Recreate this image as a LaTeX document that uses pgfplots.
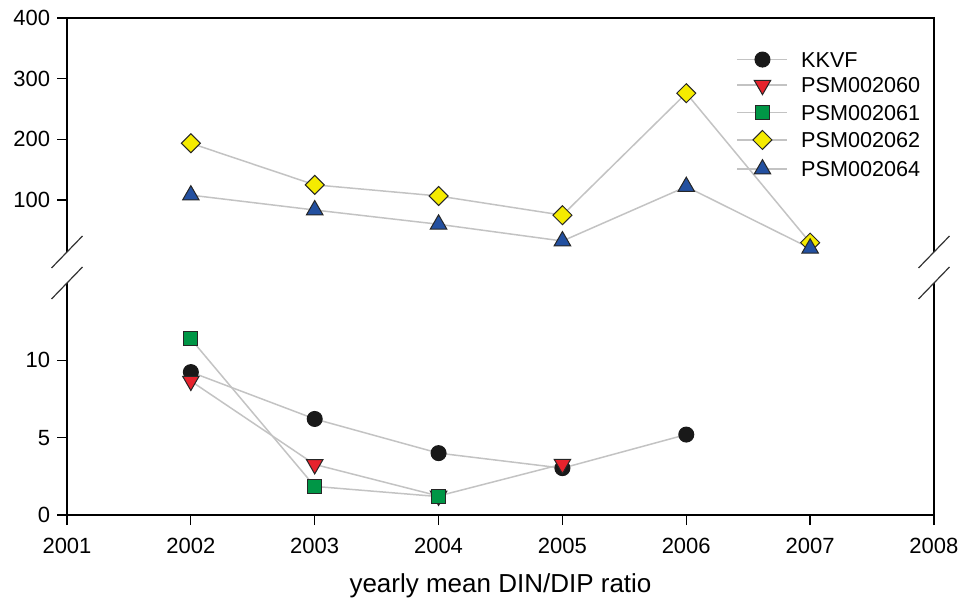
\documentclass[border=0pt]{standalone}
\usepackage{fontspec}
\setmainfont{Liberation Sans}
\usepackage{pgfplots}
\pgfplotsset{compat=1.18}
\definecolor{cred}{RGB}{230,35,45}
\definecolor{cgreen}{RGB}{0,150,70}
\definecolor{cyellow}{RGB}{245,235,0}
\definecolor{cblue}{RGB}{35,80,160}
\definecolor{cblack}{RGB}{25,25,25}
\definecolor{cgray}{RGB}{195,195,195}
\begin{document}
\begin{tikzpicture}[x=1bp,y=1bp]
\useasboundingbox (-33.5bp,-42bp) rectangle (446.5bp,257.5bp);
\pgfplotsset{
  common/.style={
    scale only axis, width=433.5bp,
    xmin=2001, xmax=2008,
    axis line style={draw=none},
    tick align=outside, major tick length=5bp,
    every tick/.style={black, line width=0.6bp},
    ytick pos=left, xtick pos=bottom,
    tick label style={font=\fontsize{11bp}{13bp}\selectfont},
    /pgf/number format/assume math mode=true,
    /pgf/number format/1000 sep={},
    clip=false,
    legend image code/.code={\draw[mark repeat=2,mark phase=2] plot coordinates {(0bp,0bp) (12.5bp,0bp) (25bp,0bp)};},
  },
  ln/.style={draw=cgray, line width=0.75bp},
  kkvf/.style={ln, mark=*, mark size=3.75bp, mark options={draw=cblack, fill=cblack, line width=0.5bp}},
  p60/.style={ln, mark=triangle*, mark size=4.75bp, mark options={draw=black!85, fill=cred, line width=0.5bp, rotate=180}},
  p61/.style={ln, mark=square*, mark size=3.5bp, mark options={draw=black!85, fill=cgreen, line width=0.5bp}},
  p62/.style={ln, mark=square*, mark size=3.36bp, mark options={draw=black!85, fill=cyellow, line width=0.5bp, rotate=45}},
  p64/.style={ln, mark=triangle*, mark size=4.75bp, mark options={draw=black!85, fill=cblue, line width=0.5bp}},
}
% bottom panel
\begin{axis}[common, name=bot, at={(0,0)}, anchor=south west, height=116bp,
  ymin=0, ymax=15, ytick={0,5,10}, xtick={2001,2002,...,2008},
  xticklabel style={yshift=-3bp},
  xlabel={yearly mean DIN/DIP ratio},
  xlabel style={font=\fontsize{13bp}{15bp}\selectfont, at={(axis description cs:0.5,0)}, anchor=base, yshift=-38.5bp}]
\addplot[kkvf] coordinates {(2002,9.24) (2003,6.21) (2004,4.0) (2005,3.03) (2006,5.2)};
\addplot[p60] coordinates {(2002,8.66) (2003,3.27) (2004,1.23) (2005,3.29)};
\addplot[p61] coordinates {(2002,11.38) (2003,1.85) (2004,1.19)};
\end{axis}
% top panel
\begin{axis}[common, name=top, at={(0,131.5bp)}, anchor=south west, height=117bp,
  ymin=14.3, ymax=400, ytick={100,200,300,400}, xtick=\empty,
  legend cell align=left,
  legend style={at={(rel axis cs:0.772,0.857)}, anchor=north west, draw=none, fill=none,
    font=\fontsize{10.8bp}{13bp}\selectfont, row sep=5.1bp, inner sep=0pt,
    nodes={inner xsep=0pt, inner ysep=0pt, text height=7.7bp, text depth=0pt},
    /tikz/every odd column/.append style={column sep=6.5bp}}]
\addlegendimage{kkvf}\addlegendentry{KKVF}
\addlegendimage{p60}\addlegendentry{PSM002060}
\addlegendimage{p61}\addlegendentry{PSM002061}
\addplot[p62] coordinates {(2002,193.5) (2003,125) (2004,106.6) (2005,75) (2006,276) (2007,29.7)};
\addlegendentry{PSM002062}
\addplot[p64] coordinates {(2002,108) (2003,83.5) (2004,60) (2005,32.4) (2006,122) (2007,20.4)};
\addlegendentry{PSM002064}
\end{axis}
\draw[line width=0.75bp] (top.south west) -- (top.north west) -- (top.north east) -- (top.south east);
\draw[line width=0.75bp] (bot.north west) -- (bot.south west) -- (bot.south east) -- (bot.north east);
\foreach \p in {top.south west, top.south east, bot.north west, bot.north east}
  \draw[line width=0.6bp, black!80] (\p) ++(-7.75bp,-8bp) -- ++(15.5bp,16bp);
\end{tikzpicture}
\end{document}
